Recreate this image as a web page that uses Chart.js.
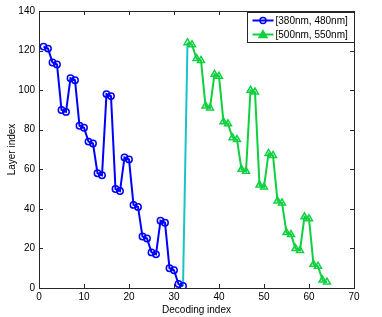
<!DOCTYPE html>
<html><head><meta charset="utf-8">
<script src="https://cdn.jsdelivr.net/npm/chart.js@4/dist/chart.umd.min.js"></script>
<style>html,body{margin:0;padding:0;background:#fff}canvas{display:block}</style>
</head><body>
<canvas id="c" width="382" height="317"></canvas>
<script>
const blueX = [1,2,3,4,5,6,7,8,9,10,11,12,13,14,15,16,17,18,19,20,21,22,23,24,25,26,27,28,29,30,31,32];
const blueY = [122,121,114,113,90,89,106,105,82,81,74,73,58,57,98,97,50,49,66,65,42,41,26,25,18,17,34,33,10,9,2,1];
const greenX = [33,34,35,36,37,38,39,40,41,42,43,44,45,46,47,48,49,50,51,52,53,54,55,56,57,58,59,60,61,62,63,64];
const greenY = [124,123,116,115,92,91,108,107,84,83,76,75,60,59,100,99,52,51,68,67,44,43,28,27,20,19,36,35,12,11,4,3];
const seriesLabels = ['[380nm, 480nm]', '[500nm, 550nm]'];
const xTicks = [0,10,20,30,40,50,60,70];
const yTicks = [0,20,40,60,80,100,120,140];

const BLUE = '#0000ff', GREEN = '#10d040', CYAN = '#19c3c8', AX = '#262626';
const FONT = 'Liberation Sans, Arial, sans-serif';

const toPts = (xs, ys) => xs.map((x, i) => ({x, y: ys[i]}));
const bluePts = toPts(blueX, blueY);
const greenPts = toPts(greenX, greenY);
const joinPts = [bluePts[bluePts.length-1], greenPts[0]];

const boxPlugin = {
  id: 'box',
  afterDraw(chart) {
    const {ctx, chartArea: a, scales: {x, y}} = chart;
    ctx.save();
    ctx.strokeStyle = AX; ctx.lineWidth = 1;
    ctx.strokeRect(Math.round(a.left)+0.5, Math.round(a.top)+0.5, Math.round(a.right-a.left), Math.round(a.bottom-a.top));
    const L = 4;
    ctx.beginPath();
    xTicks.forEach(v => {
      const px = Math.round(x.getPixelForValue(v)) + 0.5;
      ctx.moveTo(px, a.bottom); ctx.lineTo(px, a.bottom - L);
      ctx.moveTo(px, a.top); ctx.lineTo(px, a.top + L);
    });
    yTicks.forEach(v => {
      const py = Math.round(y.getPixelForValue(v)) + 0.5;
      ctx.moveTo(a.left, py); ctx.lineTo(a.left + L, py);
      ctx.moveTo(a.right, py); ctx.lineTo(a.right - L, py);
    });
    ctx.stroke();
    // legend
    const bx = Math.round(a.right) - 107 + 0.5, by = Math.round(a.top) + 1.5, bw = 107, bh = 30;
    ctx.fillStyle = '#fff';
    ctx.fillRect(bx, by, bw, bh);
    ctx.strokeStyle = AX;
    ctx.strokeRect(bx, by, bw, bh);
    const rows = [{c: BLUE, m: 'circle'}, {c: GREEN, m: 'triangle'}];
    rows.forEach((r, i) => {
      const cy = by + 8 + i * 14;
      ctx.strokeStyle = r.c; ctx.lineWidth = 2;
      ctx.beginPath(); ctx.moveTo(bx + 5, cy); ctx.lineTo(bx + 26, cy); ctx.stroke();
      ctx.lineWidth = 1.5;
      ctx.beginPath();
      if (r.m === 'circle') { ctx.arc(bx + 15.5, cy, 3, 0, Math.PI*2); }
      else { ctx.moveTo(bx+15.5, cy-4); ctx.lineTo(bx+19.5, cy+3); ctx.lineTo(bx+11.5, cy+3); ctx.closePath(); ctx.fillStyle = r.c; ctx.fill(); }
      ctx.stroke();
      ctx.fillStyle = '#000';
      ctx.font = '10px ' + FONT;
      ctx.textBaseline = 'middle';
      ctx.fillText(seriesLabels[i], bx + 28, cy + 0.5);
    });
    ctx.restore();
  }
};

new Chart(document.getElementById('c'), {
  type: 'scatter',
  data: {
    datasets: [
      {label: 'join', data: joinPts, showLine: true, borderColor: CYAN, borderWidth: 2, pointRadius: 0, order: 3},
      {label: seriesLabels[0], data: bluePts, showLine: true, borderColor: BLUE, backgroundColor: 'rgba(0,0,0,0)',
       borderWidth: 2, pointStyle: 'circle', pointRadius: 3.2, pointBorderWidth: 1.5, pointBorderColor: BLUE, pointBackgroundColor: 'rgba(0,0,0,0)', order: 2},
      {label: seriesLabels[1], data: greenPts, showLine: true, borderColor: GREEN, backgroundColor: 'rgba(0,0,0,0)',
       borderWidth: 2, pointStyle: 'triangle', pointRadius: 4, pointBorderWidth: 1.5, pointBorderColor: GREEN, pointBackgroundColor: 'rgba(0,0,0,0)', order: 1}
    ]
  },
  options: {
    responsive: false, animation: false,
    layout: {padding: {top: 11, right: 28, left: 0, bottom: 0}},
    plugins: {legend: {display: false}, tooltip: {enabled: false}},
    scales: {
      x: {
        type: 'linear', min: 0, max: 70,
        afterBuildTicks: s => { s.ticks = xTicks.map(v => ({value: v})); },
        afterFit: s => { s.height = 29; },
        grid: {display: false, drawTicks: false},
        border: {display: false},
        ticks: {color: '#000', font: {family: FONT, size: 10}, padding: 3, maxRotation: 0},
        title: {display: true, text: 'Decoding index', color: '#000', font: {family: FONT, size: 10}, padding: {top: 0, bottom: 1}}
      },
      y: {
        type: 'linear', min: 0, max: 140,
        afterBuildTicks: s => { s.ticks = yTicks.map(v => ({value: v})); },
        afterFit: s => { s.width = 39; },
        grid: {display: false, drawTicks: false},
        border: {display: false},
        ticks: {color: '#000', font: {family: FONT, size: 10}, padding: 4},
        title: {display: true, text: 'Layer index', color: '#000', font: {family: FONT, size: 10}, padding: {top: 6, bottom: 0}}
      }
    }
  },
  plugins: [boxPlugin]
});
</script>
</body></html>
